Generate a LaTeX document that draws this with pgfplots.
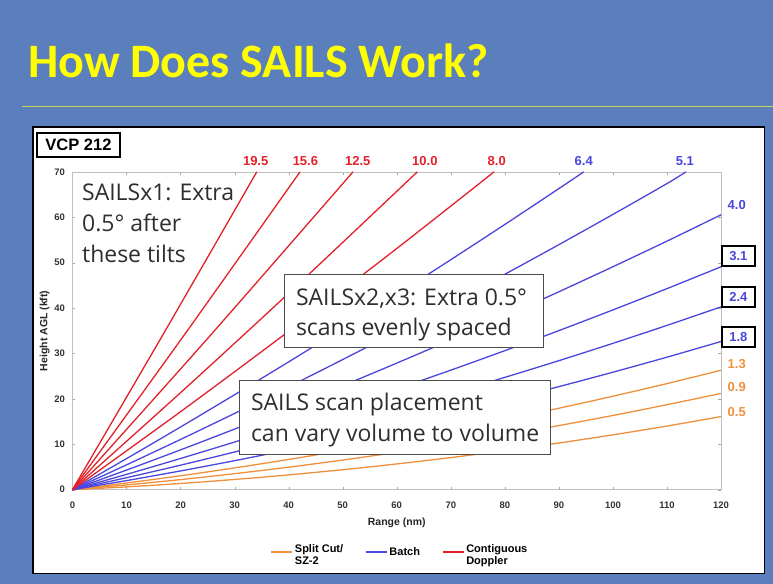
\documentclass[border=0pt]{standalone}
\usepackage{pgfplots}
\pgfplotsset{compat=1.18}
\usepackage{fontspec}
\setmainfont{Liberation Sans}
\newfontfamily\titlefont{Carlito}
\newfontfamily\boxfont{Open Sans}
\definecolor{slidebg}{HTML}{5B7FBC}
\definecolor{ttlyellow}{HTML}{FFFF00}
\definecolor{rulecol}{HTML}{C9D65A}
\definecolor{cred}{HTML}{E3212B}
\definecolor{cblue}{HTML}{4A46DE}
\definecolor{corange}{HTML}{F0903C}
\definecolor{boxtext}{HTML}{2E2E2E}
\begin{document}
\begin{tikzpicture}
\fill[slidebg] (0pt,0pt) rectangle (773pt,584pt);
\node[anchor=base west, inner sep=0pt, text=ttlyellow, font=\titlefont\bfseries\fontsize{48}{56}\selectfont] at (28pt,506pt) {How Does SAILS Work?};
\draw[rulecol, line width=1pt] (22pt,477pt) -- (773pt,477pt);
\draw[black, line width=1.5pt, fill=white] (33pt,10pt) rectangle (765pt,457pt);
\begin{axis}[
  at={(72.5pt,94pt)}, anchor=south west, scale only axis,
  width=649pt, height=318pt,
  xmin=0, xmax=120, ymin=0, ymax=70,
  xtick={0,10,...,120}, ytick={0,10,...,70},
  axis line style={black!25},
  tick style={black!35},
  major tick length=3pt,
  clip=false,
  /pgf/number format/assume math mode=true,
  ticklabel style={font=\bfseries\fontsize{9.5}{10}\selectfont, text=black!80},
  xticklabel style={yshift=-8.5pt},
  yticklabel style={xshift=-4pt},
  xlabel={Range (nm)}, ylabel={Height AGL (kft)},
  label style={font=\bfseries\fontsize{10.5}{12}\selectfont, text=black!85},
  xlabel style={at={(rel axis cs:0.5,-0.105)}, anchor=center},
  ylabel style={at={(rel axis cs:-0.043,0.5)}, anchor=center},
  legend style={at={(rel axis cs:0.505,-0.196)}, anchor=center, draw=none, fill=none,
    legend columns=3, font=\bfseries\fontsize{11}{12.5}\selectfont,
    /tikz/every even column/.append style={column sep=20pt}},
  legend cell align=left,
  legend image code/.code={\draw[#1] (0pt,0pt) -- (21pt,0pt);},
  every axis plot/.append style={line width=1.3pt, smooth},
]
\addlegendimage{corange, line width=1.3pt}
\addlegendentry{\begin{tabular}{@{}l@{}}Split Cut/\\SZ-2\end{tabular}}
\addlegendimage{cblue, line width=1.3pt}
\addlegendentry{Batch}
\addlegendimage{cred, line width=1.3pt}
\addlegendentry{\begin{tabular}{@{}l@{}}Contiguous\\Doppler\end{tabular}}
% orange (split cut)
\addplot[corange, forget plot] coordinates {(0,0)(10,0.62)(20,1.37)(30,2.25)(40,3.26)(50,4.40)(60,5.67)(70,7.07)(80,8.61)(90,10.28)(100,12.08)(110,14.02)(120,16.1)};
\addplot[corange, forget plot] coordinates {(0,0)(10,1.05)(20,2.22)(30,3.53)(40,4.96)(50,6.53)(60,8.23)(70,10.06)(80,12.02)(90,14.12)(100,16.35)(110,18.72)(120,21.2)};
\addplot[corange, forget plot] coordinates {(0,0)(10,1.47)(20,3.07)(30,4.80)(40,6.66)(50,8.65)(60,10.78)(70,13.03)(80,15.42)(90,17.94)(100,20.59)(110,23.37)(120,26.3)};
% blue (batch)
\addplot[cblue, forget plot] coordinates {(0,0)(10,2.00)(20,4.13)(30,6.39)(40,8.78)(50,11.30)(60,13.95)(70,16.73)(80,19.65)(90,22.70)(100,25.88)(110,29.19)(120,32.64)};
\addplot[cblue, forget plot] coordinates {(0,0)(10,2.64)(20,5.40)(30,8.30)(40,11.32)(50,14.48)(60,17.77)(70,21.19)(80,24.74)(90,28.42)(100,32.24)(110,36.19)(120,40.27)};
\addplot[cblue, forget plot] coordinates {(0,0)(10,3.37)(20,6.87)(30,10.50)(40,14.26)(50,18.15)(60,22.17)(70,26.33)(80,30.62)(90,35.04)(100,39.60)(110,44.29)(120,49.1)};
\addplot[cblue, forget plot] coordinates {(0,0)(10,4.32)(20,8.77)(30,13.35)(40,18.06)(50,22.90)(60,27.88)(70,32.99)(80,38.23)(90,43.60)(100,49.11)(110,54.75)(120,60.55)};
\addplot[cblue, forget plot] coordinates {(0,0)(10,5.467)(20,11.067)(30,16.800)(40,22.664)(50,28.662)(60,34.792)(70,41.054)(80,47.448)(90,53.975)(100,60.635)(110,67.427)(113.5,70)};
\addplot[cblue, forget plot] coordinates {(0,0)(10,6.839)(20,13.811)(30,20.915)(40,28.152)(50,35.520)(60,43.022)(70,50.656)(80,58.422)(90,66.321)(94.6,70)};
% red (contiguous doppler)
\addplot[cred, forget plot] coordinates {(0,0)(20,17.177)(40,34.885)(60,53.121)(78,70)};
\addplot[cred, forget plot] coordinates {(0,0)(20,21.367)(40,43.264)(63.8,70)};
\addplot[cred, forget plot] coordinates {(0,0)(25,33.291)(51.9,70)};
\addplot[cred, forget plot] coordinates {(0,0)(21,34.605)(42.1,70)};
\addplot[cred, forget plot] coordinates {(0,0)(17,34.671)(34.1,70)};
% angle labels, top
\begin{scope}[every node/.style={font=\bfseries\fontsize{13}{14}\selectfont, inner sep=1pt}]
\node[text=cred] at (axis cs:33.9,72.3) {19.5};
\node[text=cred] at (axis cs:43.1,72.3) {15.6};
\node[text=cred] at (axis cs:52.8,72.3) {12.5};
\node[text=cred] at (axis cs:65.2,72.3) {10.0};
\node[text=cred] at (axis cs:78.5,72.3) {8.0};
\node[text=cblue] at (axis cs:94.6,72.3) {6.4};
\node[text=cblue] at (axis cs:113.3,72.3) {5.1};
% right
\node[text=cblue] at (axis cs:122.9,62.8) {4.0};
\node[text=cblue, draw=black, line width=2.2pt, minimum width=33pt, minimum height=20pt] at (axis cs:123.2,51.5) {3.1};
\node[text=cblue, draw=black, line width=2.2pt, minimum width=33pt, minimum height=20pt] at (axis cs:123.2,42.5) {2.4};
\node[text=cblue, draw=black, line width=2.2pt, minimum width=33pt, minimum height=20pt] at (axis cs:123.2,33.7) {1.8};
\node[text=corange] at (axis cs:122.9,27.6) {1.3};
\node[text=corange] at (axis cs:122.9,22.6) {0.9};
\node[text=corange] at (axis cs:122.9,17.0) {0.5};
\end{scope}
\end{axis}
% VCP box
\node[draw=black, line width=1.3pt, inner sep=0pt, minimum width=83pt, minimum height=24pt, font=\bfseries\fontsize{16.5}{18}\selectfont] at (78.5pt,439pt) {VCP 212};
% text annotations
\begin{scope}[every node/.style={anchor=base west, inner sep=0pt, text=boxtext, font=\boxfont\fontsize{23}{28}\selectfont}]
\node at (82pt,383pt) {SAILSx1: Extra};
\node at (82pt,352pt) {0.5° after};
\node at (82pt,321pt) {these tilts};
\draw[black!70, line width=1pt, fill=white] (285pt,236pt) rectangle (544pt,309pt);
\node at (296pt,278pt) {SAILSx2,x3: Extra 0.5°};
\node at (296pt,248pt) {scans evenly spaced};
\draw[black!70, line width=1pt, fill=white] (240pt,129pt) rectangle (551pt,203pt);
\node at (251pt,173pt) {SAILS scan placement};
\node at (251pt,142pt) {can vary volume to volume};
\end{scope}
\end{tikzpicture}
\end{document}
